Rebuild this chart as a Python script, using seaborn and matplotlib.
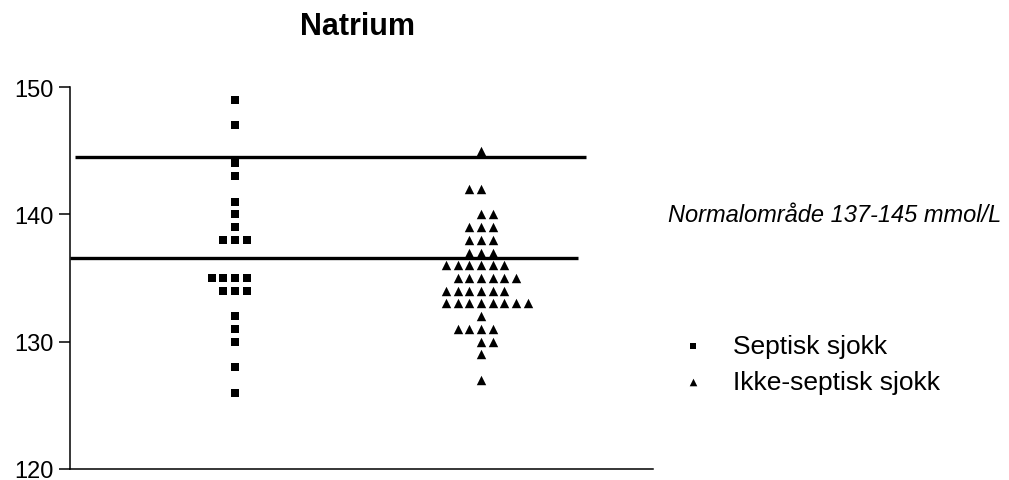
import numpy as np
import pandas as pd
import matplotlib
matplotlib.use("Agg")
import matplotlib.pyplot as plt
import seaborn as sns

# Serum sodium (mmol/L) per patient
septic = [149, 147, 144, 143, 141, 140, 139, 138, 138, 138,
          135, 135, 135, 135, 134, 134, 134, 132, 131, 130, 128, 126]
non_septic = [145, 142, 142, 140, 140, 139, 139, 139, 138, 138, 138,
              137, 137, 137, 136, 136, 136, 136, 136, 136,
              135, 135, 135, 135, 135, 135, 134, 134, 134, 134, 134, 134,
              133, 133, 133, 133, 133, 133, 133, 133, 132,
              131, 131, 131, 131, 130, 130, 129, 127]

groups = ["Septisk sjokk", "Ikke-septisk sjokk"]
group_markers = ["s", "^"]
reference_lines = [144.5, 136.6]
y_ticks = [120, 130, 140, 150]
title = "Natrium"
note = "Normalområde 137-145 mmol/L"


def column_offsets(values, step):
    """Spread tied values side by side in a row (column scatter layout)."""
    vals = np.asarray(values)
    offs = np.zeros(len(vals))
    flip = False
    for v in sorted(set(vals.tolist()), reverse=True):
        idx = np.where(vals == v)[0]
        n = len(idx)
        k = np.arange(n) - (n - 1) / 2
        if n % 2 == 0:
            k = k + (0.5 if flip else -0.5)
            flip = not flip
        offs[idx] = k * step
    return offs


step = 0.0476
frames = []
for i, (name, vals) in enumerate(zip(groups, [septic, non_septic])):
    frames.append(pd.DataFrame({
        "group": name,
        "value": vals,
        "pos": i + column_offsets(vals, step),
    }))
df = pd.concat(frames, ignore_index=True)

sns.set_style("ticks")
plt.rcParams["font.family"] = ["Liberation Sans", "DejaVu Sans"]
plt.rcParams["text.color"] = "black"
plt.rcParams["axes.labelcolor"] = "black"
plt.rcParams["ytick.color"] = "black"
plt.rcParams["ytick.labelcolor"] = "black"

fig = plt.figure(figsize=(10.09, 4.81), dpi=100)
ax = fig.add_axes([70 / 1009, 11 / 481, 583 / 1009, 382 / 481])

sizes = [36, 46]
for name, mk, s in zip(groups, group_markers, sizes):
    sub = df[df["group"] == name]
    sns.scatterplot(data=sub, x="pos", y="value", marker=mk, color="black",
                    s=s, linewidth=0, ax=ax, label=name, legend=False)

# Normal range boundaries
ax.hlines(reference_lines[0], -0.65, 1.427, color="black", lw=2.4, zorder=1)
ax.hlines(reference_lines[1], -0.671, 1.394, color="black", lw=2.4, zorder=1)

ax.set_xlim(-0.671, 1.699)
ax.set_ylim(120, 150)
ax.set_yticks(y_ticks)
ax.set_xticks([])
ax.set_xlabel("")
ax.set_ylabel("")
ax.tick_params(axis="y", length=8, width=1.1, pad=3.5, labelsize=17,
               colors="black")
for side in ["top", "right"]:
    ax.spines[side].set_visible(False)
for side in ["left", "bottom"]:
    ax.spines[side].set_linewidth(1.1)
    ax.spines[side].set_color("black")

fig.text(358 / 1009, 1 - 27 / 481, title, ha="center", va="center",
         fontsize=22, fontweight="bold", color="black")
fig.text(668 / 1009, 1 - 216 / 481, note, ha="left", va="center",
         fontsize=17, style="italic", color="black")

handles, labels = ax.get_legend_handles_labels()
leg = fig.legend(handles, labels, loc="upper left",
                 bbox_to_anchor=(680 / 1009, 1 - 335 / 481),
                 frameon=False, fontsize=19,
                 handlelength=1.0, handletextpad=1.0, labelspacing=0.45,
                 borderpad=0, borderaxespad=0)
for t in leg.get_texts():
    t.set_color("black")
for h, s in zip(leg.legend_handles, [20, 30]):
    h.set_sizes([s])

fig.savefig("out.png", dpi=100)
